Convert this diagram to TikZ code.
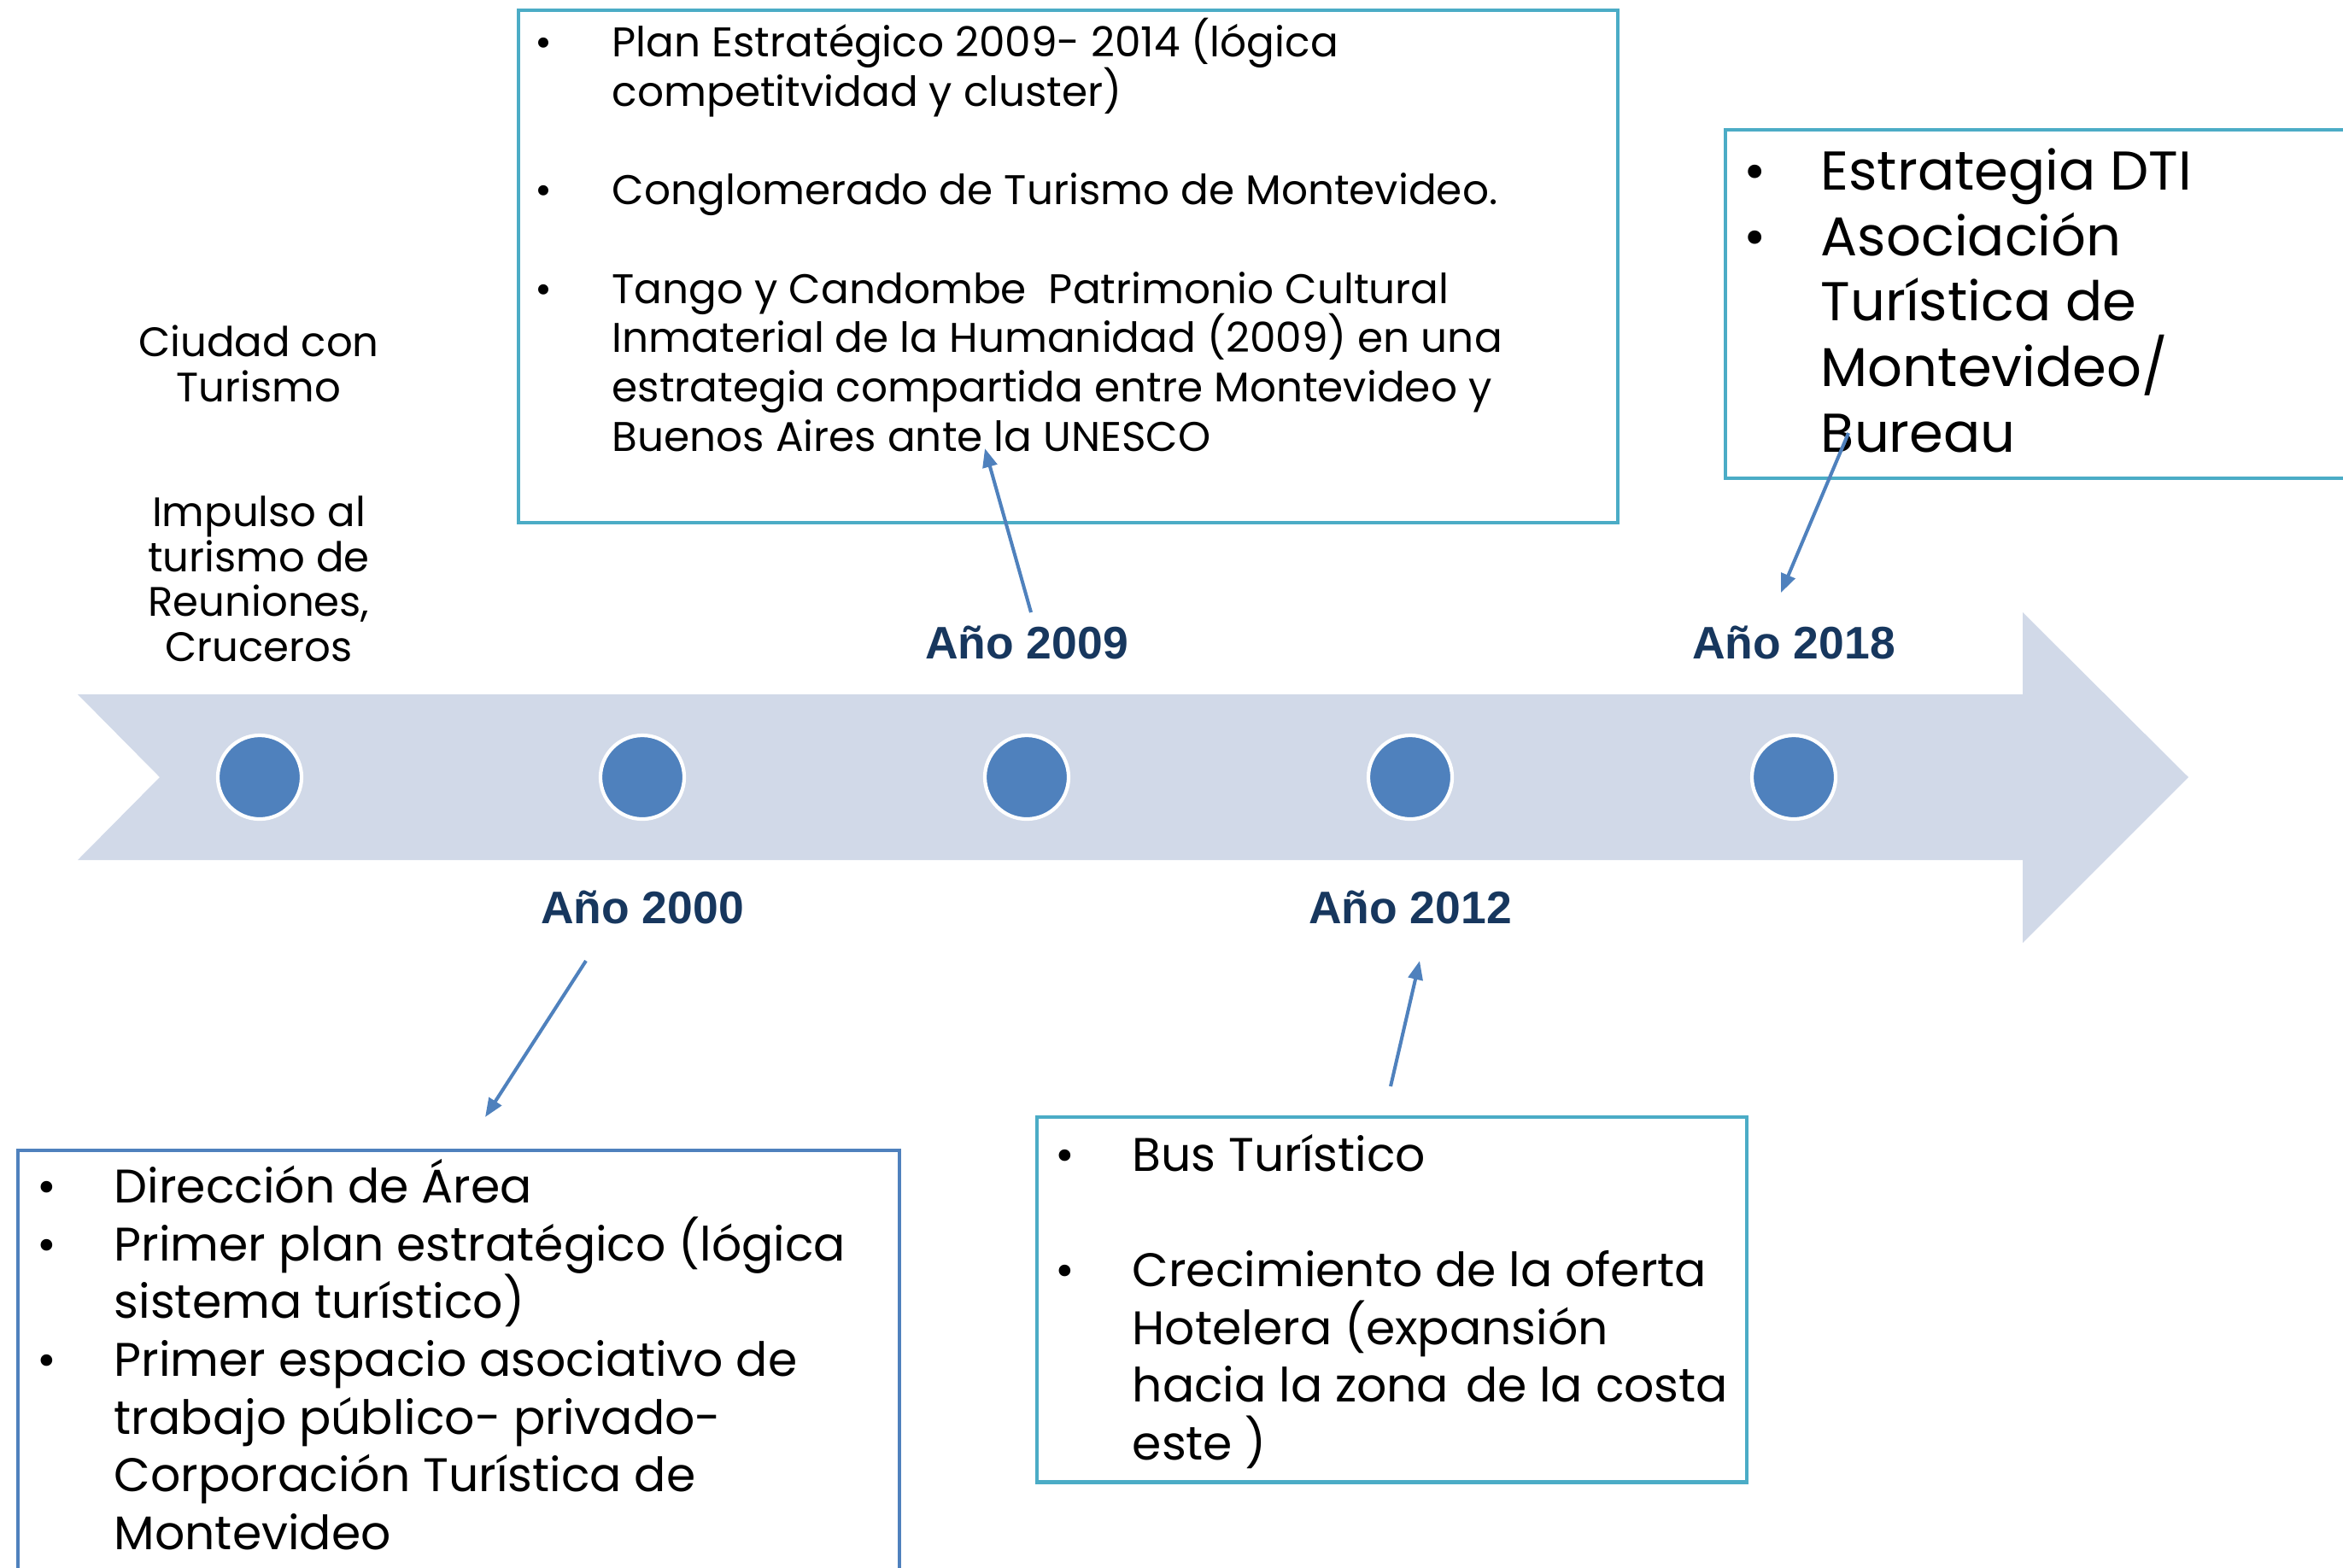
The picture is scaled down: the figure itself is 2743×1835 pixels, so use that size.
\documentclass[tikz,border=0pt]{standalone}
\usepackage{fontspec}
\setmainfont{Poppins}
\newfontfamily\yearfont{Liberation Sans}
\usetikzlibrary{arrows.meta}

\definecolor{bandblue}{HTML}{D1D9E8}
\definecolor{dotblue}{HTML}{4F81BD}
\definecolor{boxteal}{HTML}{4BACC6}
\definecolor{yearnavy}{HTML}{17375E}

\newcommand{\itm}{\makebox[0.81cm][l]{\hspace*{-0.09cm}\textbullet}}
\newcommand{\ind}{\hspace*{0.81cm}}
\newcommand{\tight}{\lineskiplimit=-100pt\lineskip=0pt}

\tikzset{
    yeardot/.style={circle,fill=dotblue,draw=white,line width=1.2pt,minimum size=0.98cm,inner sep=0pt},
    yearlabel/.style={text=yearnavy,font=\yearfont\bfseries\fontsize{15.2pt}{18pt}\selectfont,inner sep=0pt},
    tealbox/.style={draw=boxteal,line width=1.4pt},
    bluebox/.style={draw=dotblue,line width=1.4pt},
    pointer/.style={draw=dotblue,line width=1.15pt,-{Triangle[length=0.22cm,width=0.17cm]}},
    listtext/.style={align=left,inner sep=0pt,anchor=base west},
    sidetext/.style={align=center,inner sep=0pt,anchor=base,font=\fontsize{13.7pt}{14.9pt}\selectfont\tight}
}

\begin{document}
\begin{tikzpicture}[x=0.01cm,y=-0.01cm]
                \useasboundingbox (0,0) rectangle (2743,1835);

                \fill[bandblue] (91,813) -- (2368,813) -- (2368,717) -- (2562,910)
                    -- (2368,1104) -- (2368,1007) -- (91,1007) -- (187,910) -- cycle;

                \node[yeardot] (d2000a) at (304,910) {};
                \node[yeardot] (d2000) at (752,910) {};
                \node[yeardot] (d2009) at (1202,910) {};
                \node[yeardot] (d2012) at (1651,910) {};
                \node[yeardot] (d2018) at (2100,910) {};

                \node[yearlabel] (y2009) at (1202,752) {Año 2009};
                \node[yearlabel] (y2018) at (2100,752) {Año 2018};
                \node[yearlabel] (y2000) at (752,1062) {Año 2000};
                \node[yearlabel] (y2012) at (1651,1062) {Año 2012};

                \node[sidetext] (ciudad) at (303,470) {Ciudad con\\Turismo};
                \node[sidetext] (impulso) at (303,774) {Impulso al\\turismo de\\Reuniones,\\Cruceros};

                \coordinate (topA) at (607,12);
                \coordinate (topB) at (1894,612);
                \coordinate (rightA) at (2020,152);
                \coordinate (rightB) at (2780,560);
                \coordinate (leftA) at (21,1347);
                \coordinate (leftB) at (1053,1870);
                \coordinate (midA) at (1214,1308);
                \coordinate (midB) at (2045,1735);

                \draw[tealbox] (topA) rectangle (topB);
                \draw[tealbox] (rightA) rectangle (rightB);
                \draw[bluebox] (leftA) rectangle (leftB);
                \draw[tealbox] (midA) rectangle (midB);

                \node[listtext,font=\fontsize{13.8pt}{16.4pt}\selectfont\tight] (plan) at (635,528)
                    {\itm Plan Estratégico 2009- 2014 (lógica\\\ind competitvidad y cluster)\\[16.4pt]%
                     \itm Conglomerado de Turismo de Montevideo.\\[16.4pt]%
                     \itm Tango y Candombe \ Patrimonio Cultural\\\ind Inmaterial de la Humanidad (2009) en una\\%
                     \ind estrategia compartida entre Montevideo y\\\ind Buenos Aires ante la UNESCO};
                \node[listtext,font=\fontsize{18.2pt}{21.8pt}\selectfont\tight] (dti) at (2050,529)
                    {\itm Estrategia DTI\\\itm Asociación\\\ind Turística de\\\ind Montevideo/\\\ind Bureau};
                \node[listtext,font=\fontsize{15.7pt}{19.2pt}\selectfont\tight] (area) at (52,1814)
                    {\itm Dirección de Área\\\itm Primer plan estratégico (lógica\\\ind sistema turístico)\\%
                     \itm Primer espacio asociativo de\\\ind trabajo público- privado-\\%
                     \ind Corporación Turística de\\\ind Montevideo};
                \node[listtext,font=\fontsize{15.7pt}{19.2pt}\selectfont\tight] (bus) at (1244,1709)
                    {\itm Bus Turístico\\[19.2pt]\itm Crecimiento de la oferta\\\ind Hotelera (expansión\\%
                     \ind hacia la zona \hspace{0.05cm}de la costa\\\ind este )};

                \coordinate (a2009s) at (1207,717);
                \coordinate (a2009e) at (1153,525);
                \coordinate (a2018s) at (2164,507);
                \coordinate (a2018e) at (2085,694);
                \coordinate (a2000s) at (686,1125);
                \coordinate (a2000e) at (568,1308);
                \coordinate (a2012s) at (1628,1272);
                \coordinate (a2012e) at (1662,1125);

                \draw[pointer] (a2009s) -- (a2009e);
                \draw[pointer] (a2018s) -- (a2018e);
                \draw[pointer] (a2000s) -- (a2000e);
                \draw[pointer] (a2012s) -- (a2012e);
            \end{tikzpicture}
\end{document}
